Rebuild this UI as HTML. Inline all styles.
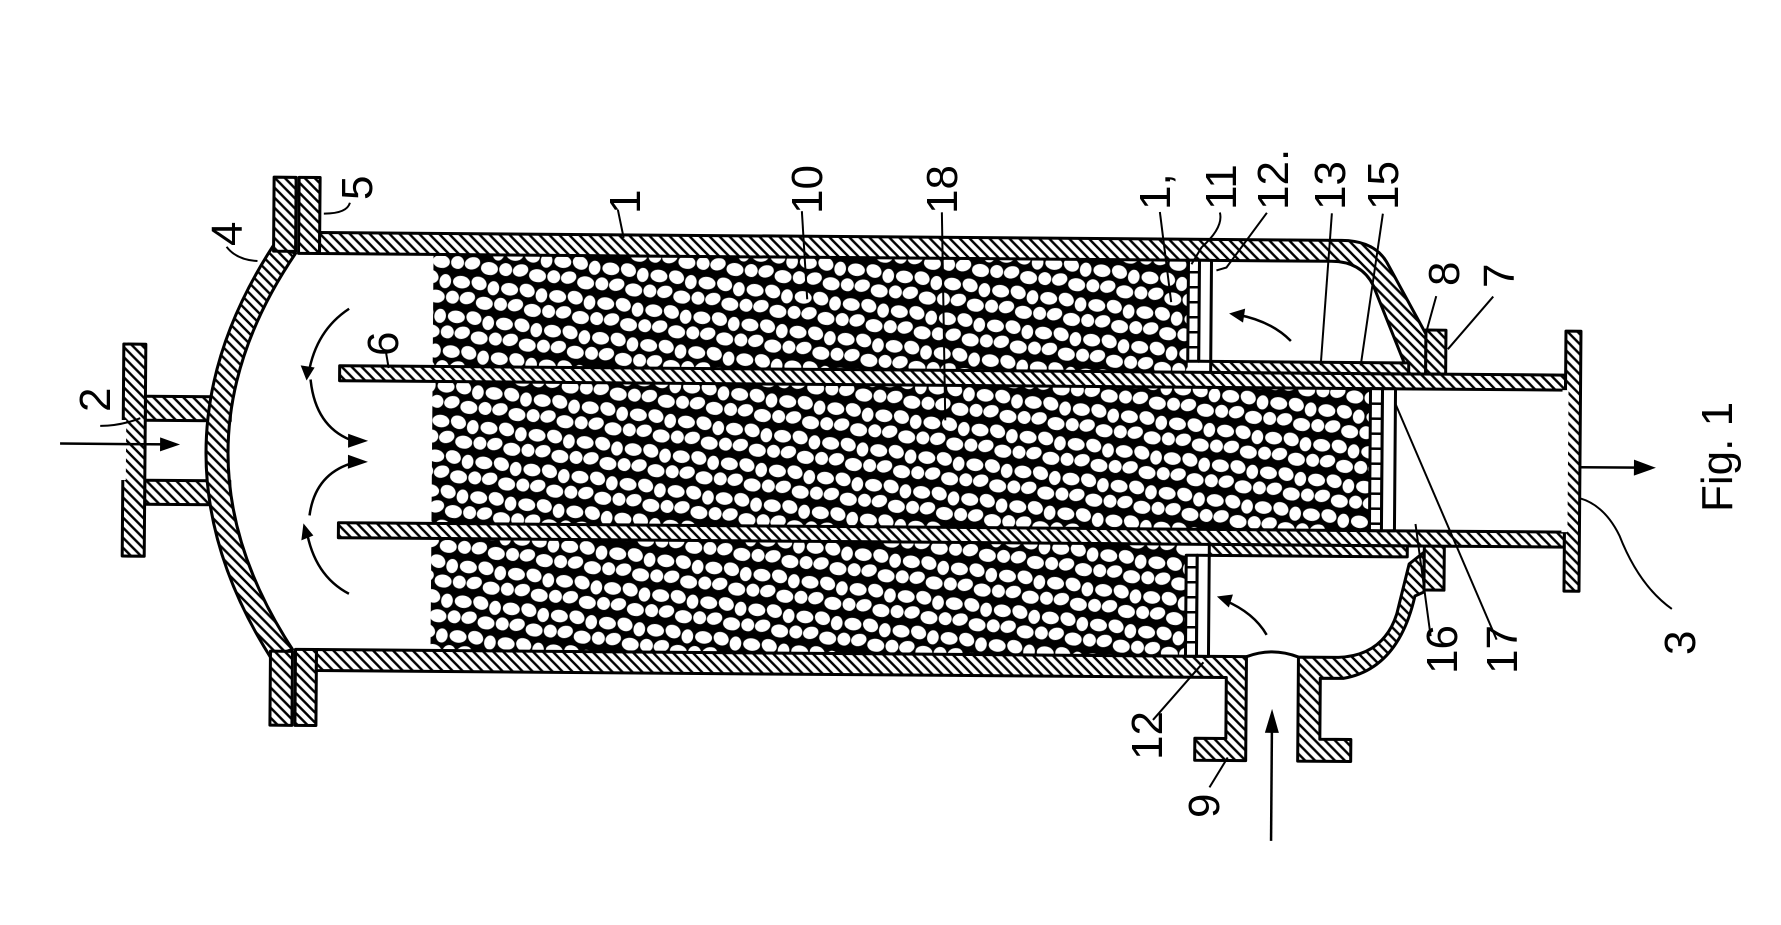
<!DOCTYPE html>
<html><head><meta charset="utf-8"><style>
html,body{margin:0;padding:0;background:#fff;}
svg{display:block;}
text{font-family:"Liberation Sans",sans-serif;fill:#000;}
</style></head><body>
<svg width="1781" height="925" viewBox="0 0 1781 925" xmlns="http://www.w3.org/2000/svg">
<defs>
<pattern id="h" patternUnits="userSpaceOnUse" width="10" height="10">
<rect width="10" height="10" fill="#fff"/>
<path d="M0,0L10,10M-2,8L2,12M8,-2L12,2" stroke="#000" stroke-width="2.4"/>
</pattern>
<pattern id="p" patternUnits="userSpaceOnUse" width="36" height="26" patternTransform="rotate(8) scale(1.35)">
<rect width="36" height="26" fill="#000"/>
<g fill="#fff">
<ellipse cx="7" cy="6" rx="6.3" ry="4.6"/>
<ellipse cx="20" cy="5" rx="5.8" ry="4.8" transform="rotate(20 20 5)"/>
<ellipse cx="31" cy="7" rx="4.3" ry="5.3"/>
<ellipse cx="2" cy="18" rx="4.8" ry="4.8"/>
<ellipse cx="38" cy="18" rx="4.8" ry="4.8"/>
<ellipse cx="13" cy="17" rx="5.8" ry="4.5" transform="rotate(-25 13 17)"/>
<ellipse cx="26" cy="19" rx="6.3" ry="4.8"/>
<ellipse cx="7" cy="32" rx="6.3" ry="4.6"/>
<ellipse cx="20" cy="31" rx="5.8" ry="4.8" transform="rotate(20 20 31)"/>
<ellipse cx="31" cy="33" rx="4.3" ry="5.3"/>
<ellipse cx="7" cy="-20" rx="6.3" ry="4.6"/>
<ellipse cx="31" cy="-19" rx="4.3" ry="5.3"/>
</g>
</pattern>
</defs>
<g transform="rotate(0.44 900 456)" stroke="#000" stroke-width="3" stroke-linejoin="round">
<rect x="432" y="258" width="755" height="112" fill="url(#p)" stroke="none"/>
<rect x="432" y="542" width="755" height="112" fill="url(#p)" stroke="none"/>
<rect x="432" y="385" width="938" height="142" fill="url(#p)" stroke="none"/>
<rect x="145" y="402" width="85" height="24" fill="url(#h)"/>
<rect x="145" y="486" width="85" height="24" fill="url(#h)"/>
<rect x="123" y="350" width="22" height="212" fill="url(#h)"/>
<line x1="123" y1="426" x2="123" y2="486" stroke="#fff" stroke-width="6"/>
<path d="M272,250 Q140,456 272,662 L294,654 Q162,456 294,258 Z" fill="url(#h)"/>
<rect x="272" y="182" width="22" height="74" fill="url(#h)"/>
<rect x="297" y="182" width="21" height="76" fill="url(#h)"/>
<rect x="272" y="656" width="22" height="74" fill="url(#h)"/>
<rect x="297" y="654" width="21" height="76" fill="url(#h)"/>
<path d="M318,237 L1340,237 Q1372,237 1385,258 L1425,330 L1425,370 L1408,370 L1372,282 Q1360,258 1330,258 L318,258 Z" fill="url(#h)"/>
<path d="M318,654 L1248,654 L1248,758 L1197,758 L1197,736 L1228,736 L1228,675 L318,675 Z" fill="url(#h)"/>
<path d="M1300,654 L1340,654 Q1385,652 1398,610 L1410,560 L1425,548 L1425,588 L1416,592 Q1400,665 1345,675 L1322,675 L1322,736 L1353,736 L1353,758 L1300,758 Z" fill="url(#h)"/>
<path d="M1248,654 Q1274,644 1300,654" fill="none"/>
<rect x="1425" y="326" width="20" height="44" fill="url(#h)"/>
<rect x="1425" y="542" width="20" height="44" fill="url(#h)"/>
<rect x="339" y="370" width="1226" height="15" fill="url(#h)"/>
<rect x="339" y="527" width="1226" height="15" fill="url(#h)"/>
<rect x="1565" y="326" width="15" height="260" fill="url(#h)"/>
<line x1="1565" y1="385" x2="1565" y2="527" stroke="#fff" stroke-width="6"/>
<rect x="1210" y="359" width="198" height="11" fill="url(#h)"/>
<rect x="1210" y="542" width="198" height="11" fill="url(#h)"/>
<g fill="#fff">
<rect x="1187" y="258" width="11" height="101"/><rect x="1198" y="258" width="12" height="101"/>
<rect x="1187" y="553" width="11" height="101"/><rect x="1198" y="553" width="12" height="101"/>
<rect x="1370" y="385" width="12" height="142"/><rect x="1382" y="385" width="13" height="142"/>
</g>
<path d="M1187,270h11M1187,285h11M1187,300h11M1187,315h11M1187,330h11M1187,345h11M1187,565h11M1187,580h11M1187,595h11M1187,610h11M1187,625h11M1187,640h11M1370,400h12M1370,415h12M1370,430h12M1370,445h12M1370,460h12M1370,475h12M1370,490h12M1370,505h12M1370,520h12" stroke-width="2.5"/>
<g fill="none" stroke-width="2.5">
<path d="M60,450 L170,450"/>
<path d="M348,313 Q315,335 308,378"/>
<path d="M310,384 Q315,430 350,444"/>
<path d="M350,468 Q315,480 310,520"/>
<path d="M307,534 Q315,580 350,598"/>
<path d="M1290,338 Q1270,318 1236,312"/>
<path d="M1268,632 Q1255,610 1226,598"/>
<path d="M1580,462 L1640,462"/>
<path d="M1274,838 L1274,720"/>
</g>
<g fill="#000" stroke="none">
<path d="M180,450 L160,443 L160,457 Z"/>
<path d="M306,385 L300,370 L314,372 Z"/>
<path d="M368,445 L348,438 L348,452 Z"/>
<path d="M368,466 L348,459 L348,473 Z"/>
<path d="M304,528 L302,545 L314,540 Z"/>
<path d="M1228,311 L1244,306 L1242,320 Z"/>
<path d="M1218,594 L1234,592 L1230,605 Z"/>
<path d="M1656,462 L1634,454 L1634,470 Z"/>
<path d="M1274,706 L1267,730 L1281,730 Z"/>
</g>
<g fill="none" stroke-width="2">
<path d="M100,432 Q120,432 140,424"/>
<path d="M225,252 Q235,265 256,266"/>
<path d="M348,207 Q345,218 322,218"/>
<path d="M385,355 L388,372"/>
<path d="M616,212 L622,240"/>
<path d="M800,212 L806,300"/>
<path d="M940,212 L945,420"/>
<path d="M1158,210 L1170,300"/>
<path d="M1218,210 Q1222,225 1200,245 L1190,262"/>
<path d="M1265,210 L1225,265 L1215,268"/>
<path d="M1330,210 L1320,362"/>
<path d="M1381,210 L1360,362"/>
<path d="M1435,292 L1424,333"/>
<path d="M1492,292 L1447,345"/>
<path d="M1155,718 L1205,660"/>
<path d="M1212,785 L1230,755"/>
<path d="M1432,632 L1416,520"/>
<path d="M1498,635 L1395,400"/>
<path d="M1580,493 Q1605,500 1620,530 Q1640,580 1673,603"/>
</g>
</g>
<g font-size="44">
<text transform="translate(110,412) rotate(-90)">2</text>
<text transform="translate(242,246) rotate(-90)">4</text>
<text transform="translate(372,200) rotate(-90)">5</text>
<text transform="translate(398,356) rotate(-90)">6</text>
<text transform="translate(640,214) rotate(-90)">1</text>
<text transform="translate(822,214) rotate(-90)">10</text>
<text transform="translate(957,214) rotate(-90)">18</text>
<text transform="translate(1170,210) rotate(-90)">1,</text>
<text transform="translate(1236,210) rotate(-90)">11</text>
<text transform="translate(1288,210) rotate(-90)">12.</text>
<text transform="translate(1345,210) rotate(-90)">13</text>
<text transform="translate(1398,210) rotate(-90)">15</text>
<text transform="translate(1459,286) rotate(-90)">8</text>
<text transform="translate(1514,288) rotate(-90)">7</text>
<text transform="translate(1162,760) rotate(-90)">12</text>
<text transform="translate(1219,818) rotate(-90)">9</text>
<text transform="translate(1457,674) rotate(-90)">16</text>
<text transform="translate(1517,674) rotate(-90)">17</text>
<text transform="translate(1695,655) rotate(-90)">3</text>
<text transform="translate(1732,512) rotate(-90)">Fig. 1</text>
</g>
</svg>
</body></html>
